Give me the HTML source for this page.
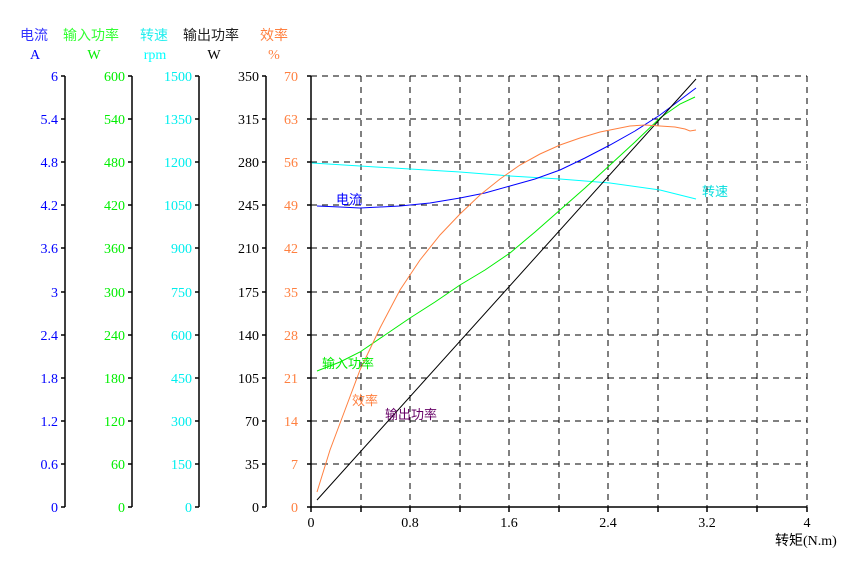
<!DOCTYPE html>
<html><head><meta charset="utf-8"><style>body{margin:0;background:#fff}</style></head><body>
<svg width="852" height="564" xmlns="http://www.w3.org/2000/svg" font-family="Liberation Serif, Noto Serif CJK SC, serif" font-size="14">
<g font-family="Liberation Sans, Noto Sans CJK SC, sans-serif" font-size="14">
<text x="20" y="40" fill="#3333ff">电流</text>
<text x="63" y="40" fill="#33ff33">输入功率</text>
<text x="140" y="40" fill="#22eeee">转速</text>
<text x="183" y="40" fill="#222">输出功率</text>
<text x="260" y="40" fill="#ff8040">效率</text>
</g>
<text x="35" y="59" fill="#0000ff" text-anchor="middle">A</text>
<text x="94" y="59" fill="#00ee00" text-anchor="middle">W</text>
<text x="155" y="59" fill="#00ffff" text-anchor="middle">rpm</text>
<text x="214" y="59" fill="#000" text-anchor="middle">W</text>
<text x="274" y="59" fill="#ff8040" text-anchor="middle">%</text>
<g stroke="#000" stroke-width="1.5">
<line x1="65" y1="76" x2="65" y2="507"/><line x1="132" y1="76" x2="132" y2="507"/>
<line x1="199" y1="76" x2="199" y2="507"/><line x1="266" y1="76" x2="266" y2="507"/>
<line x1="311" y1="76" x2="311" y2="507"/><line x1="311" y1="507" x2="807" y2="507"/>
</g>
<g stroke="#000" stroke-width="1.5">
<path d="M61 76H65M61 119H65M61 162H65M61 205H65M61 248H65M61 292H65M61 335H65M61 378H65M61 421H65M61 464H65M61 507H65"/>
<path d="M128 76H132M128 119H132M128 162H132M128 205H132M128 248H132M128 292H132M128 335H132M128 378H132M128 421H132M128 464H132M128 507H132"/>
<path d="M195 76H199M195 119H199M195 162H199M195 205H199M195 248H199M195 292H199M195 335H199M195 378H199M195 421H199M195 464H199M195 507H199"/>
<path d="M262 76H266M262 119H266M262 162H266M262 205H266M262 248H266M262 292H266M262 335H266M262 378H266M262 421H266M262 464H266M262 507H266"/>
<path d="M307 76H311M307 119H311M307 162H311M307 205H311M307 248H311M307 292H311M307 335H311M307 378H311M307 421H311M307 464H311M307 507H311"/>
<path d="M311 507V512M361 507V512M410 507V512M460 507V512M509 507V512M559 507V512M608 507V512M658 507V512M707 507V512M757 507V512M807 507V512"/>
</g>
<g stroke="#000" stroke-dasharray="6,5" stroke-width="1">
<line x1="311" y1="76" x2="807" y2="76"/><line x1="311" y1="119" x2="807" y2="119"/><line x1="311" y1="162" x2="807" y2="162"/><line x1="311" y1="205" x2="807" y2="205"/><line x1="311" y1="248" x2="807" y2="248"/><line x1="311" y1="292" x2="807" y2="292"/><line x1="311" y1="335" x2="807" y2="335"/><line x1="311" y1="378" x2="807" y2="378"/><line x1="311" y1="421" x2="807" y2="421"/><line x1="311" y1="464" x2="807" y2="464"/>
<line x1="361" y1="76" x2="361" y2="507"/><line x1="410" y1="76" x2="410" y2="507"/><line x1="460" y1="76" x2="460" y2="507"/><line x1="509" y1="76" x2="509" y2="507"/><line x1="559" y1="76" x2="559" y2="507"/><line x1="608" y1="76" x2="608" y2="507"/><line x1="658" y1="76" x2="658" y2="507"/><line x1="707" y1="76" x2="707" y2="507"/><line x1="757" y1="76" x2="757" y2="507"/><line x1="807" y1="76" x2="807" y2="507"/>
</g>
<g text-anchor="end">
<g fill="#0000ff"><text x="58" y="81">6</text><text x="58" y="124">5.4</text><text x="58" y="167">4.8</text><text x="58" y="210">4.2</text><text x="58" y="253">3.6</text><text x="58" y="297">3</text><text x="58" y="340">2.4</text><text x="58" y="383">1.8</text><text x="58" y="426">1.2</text><text x="58" y="469">0.6</text><text x="58" y="512">0</text></g>
<g fill="#00ee00"><text x="125" y="81">600</text><text x="125" y="124">540</text><text x="125" y="167">480</text><text x="125" y="210">420</text><text x="125" y="253">360</text><text x="125" y="297">300</text><text x="125" y="340">240</text><text x="125" y="383">180</text><text x="125" y="426">120</text><text x="125" y="469">60</text><text x="125" y="512">0</text></g>
<g fill="#00eeee"><text x="192" y="81">1500</text><text x="192" y="124">1350</text><text x="192" y="167">1200</text><text x="192" y="210">1050</text><text x="192" y="253">900</text><text x="192" y="297">750</text><text x="192" y="340">600</text><text x="192" y="383">450</text><text x="192" y="426">300</text><text x="192" y="469">150</text><text x="192" y="512">0</text></g>
<g fill="#000"><text x="259" y="81">350</text><text x="259" y="124">315</text><text x="259" y="167">280</text><text x="259" y="210">245</text><text x="259" y="253">210</text><text x="259" y="297">175</text><text x="259" y="340">140</text><text x="259" y="383">105</text><text x="259" y="426">70</text><text x="259" y="469">35</text><text x="259" y="512">0</text></g>
<g fill="#ff8040"><text x="298" y="81">70</text><text x="298" y="124">63</text><text x="298" y="167">56</text><text x="298" y="210">49</text><text x="298" y="253">42</text><text x="298" y="297">35</text><text x="298" y="340">28</text><text x="298" y="383">21</text><text x="298" y="426">14</text><text x="298" y="469">7</text><text x="298" y="512">0</text></g>
</g>
<g text-anchor="middle"><text x="311" y="527">0</text><text x="410" y="527">0.8</text><text x="509" y="527">1.6</text><text x="608" y="527">2.4</text><text x="707" y="527">3.2</text><text x="807" y="527">4</text></g>
<text x="775" y="545" font-family="Liberation Serif, Noto Sans CJK SC, serif">转矩(N.m)</text>
<g fill="none" stroke-width="1">
<polyline stroke="#00ffff" points="312,163 360,166 410,169 460,172 510,176 560,179 610,183 660,190 696,199"/>
<polyline stroke="#0000ff" points="317,206 340,207 360,208 380,207 400,206 430,203 460,198 485,193 510,186 535,179 560,170 585,158 610,145 635,131 660,115 680,100 696,88"/>
<polyline stroke="#00ee00" points="317,371 340,362 360,352 385,335 410,318 435,302 460,285 485,270 510,253 535,232 560,210 585,188 610,165 635,142 660,118 680,104 695,97"/>
<polyline stroke="#000" points="317,500 696,79"/>
<polyline stroke="#ff8040" points="317,492 330,450 345,410 360,370 380,328 400,290 420,260 440,235 460,214 480,195 500,179 520,165 540,154 560,145 580,138 600,132 615,129 630,126 645,125 660,126 675,127 685,129 690,131 696,130"/>
</g>
<g font-family="Liberation Sans, Noto Sans CJK SC, sans-serif" font-size="13">
<text x="336" y="204" fill="#0000ff">电流</text>
<text x="702" y="196" fill="#00dddd">转速</text>
<text x="322" y="368" fill="#00ee00">输入功率</text>
<text x="352" y="405" fill="#ff8040">效率</text>
<text x="385" y="419" fill="#660066">输出功率</text>
</g>
</svg>
</body></html>
